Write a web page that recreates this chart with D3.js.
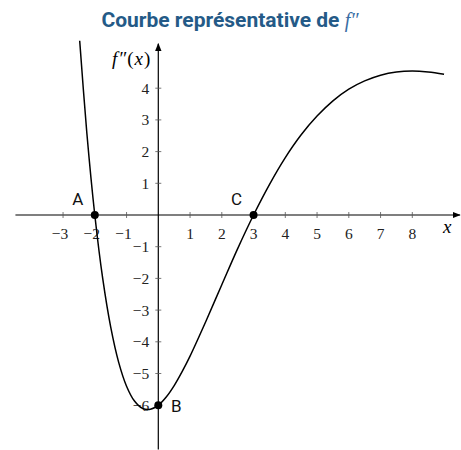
<!DOCTYPE html>
<html>
<head>
<meta charset="utf-8">
<script src="https://cdn.jsdelivr.net/npm/d3@7"></script>
<style>
  html, body { margin: 0; padding: 0; background: #fff; }
  svg { display: block; }
</style>
</head>
<body>
<svg id="chart" width="461" height="450"></svg>
<script>
const xs = [-2.5, -2.25, -2, -1.75, -1.5, -1.25, -1, -0.75, -0.5, -0.25, 0, 0.25, 0.5, 0.75, 1, 1.5, 2, 2.5, 3, 3.5, 4, 4.5, 5, 5.5, 6, 6.5, 7, 7.5, 8, 8.5, 9];
const ys = [5.82, 2.58, 0, -2.01, -3.53, -4.64, -5.40, -5.87, -6.10, -6.13, -6.00, -5.74, -5.38, -4.94, -4.45, -3.35, -2.20, -1.06, 0, 0.96, 1.81, 2.53, 3.12, 3.60, 3.97, 4.23, 4.41, 4.51, 4.54, 4.51, 4.44];

// Named points on the curve
const pointNames = ["A", "B", "C"];
const pointX = [-2, 0, 3];
const pointY = [0, -6, 0];

// Axis ticks
const xTicks = [-3, -2, -1, 1, 2, 3, 4, 5, 6, 7, 8];
const yTicks = [-6, -5, -4, -3, -2, -1, 1, 2, 3, 4];

const title = "Courbe représentative de ";

const svg = d3.select("#chart");
const unitX = 31.75, unitY = 31.7;
const x0 = 158.3, y0 = 215;
const x = d3.scaleLinear().domain([-4.5, 9.5]).range([x0 - 4.5 * unitX, x0 + 9.5 * unitX]);
const y = d3.scaleLinear().domain([-7.4, 5.5]).range([y0 + 7.4 * unitY, y0 - 5.5 * unitY]);

const serif = "'Liberation Serif', 'DejaVu Serif', serif";
const sans = "Roboto, 'Noto Sans', sans-serif";

// Title
const t = svg.append("text")
  .attr("x", 230).attr("y", 27)
  .attr("text-anchor", "middle")
  .attr("fill", "#245a87");
t.append("tspan").text(title)
  .attr("font-family", sans).attr("font-weight", 700).attr("font-size", 21);
t.append("tspan").text("f″")
  .attr("font-family", serif).attr("font-style", "italic").attr("font-size", 20)
  .attr("fill", "#3a6da3");

// Arrow marker
svg.append("defs").append("marker")
  .attr("id", "arrow")
  .attr("viewBox", "0 0 10 10")
  .attr("refX", 9).attr("refY", 5)
  .attr("markerWidth", 8).attr("markerHeight", 8)
  .attr("markerUnits", "userSpaceOnUse")
  .attr("orient", "auto")
  .append("path").attr("d", "M0,1 L10,5 L0,9 Z").attr("fill", "#000");

// Clip region for the curve
svg.select("defs").append("clipPath").attr("id", "plot")
  .append("rect")
  .attr("x", x(-4.5)).attr("y", y(5.5))
  .attr("width", x(9.5) - x(-4.5)).attr("height", y(-7.4) - y(5.5));

// Axes
svg.append("line")
  .attr("x1", x(-4.5)).attr("y1", y(0)).attr("x2", x(9.5)).attr("y2", y(0))
  .attr("stroke", "#000").attr("stroke-width", 1.2).attr("marker-end", "url(#arrow)");
svg.append("line")
  .attr("x1", x(0)).attr("y1", y(-7.4)).attr("x2", x(0)).attr("y2", y(5.4))
  .attr("stroke", "#000").attr("stroke-width", 1.2).attr("marker-end", "url(#arrow)");

// X ticks and labels
const xg = svg.append("g");
xg.selectAll("line").data(xTicks).join("line")
  .attr("x1", d => x(d)).attr("x2", d => x(d))
  .attr("y1", y(0) - 3).attr("y2", y(0) + 3)
  .attr("stroke", "#555").attr("stroke-width", 0.8);
xg.selectAll("text").data(xTicks).join("text")
  .attr("x", d => x(d) - (d < 0 ? 3 : 0)).attr("y", y(0) + 24)
  .attr("text-anchor", "middle")
  .attr("font-family", serif).attr("font-size", 15.5).attr("fill", "#222")
  .text(d => d < 0 ? "−" + Math.abs(d) : d);

// Y ticks and labels
const yg = svg.append("g");
yg.selectAll("line").data(yTicks).join("line")
  .attr("x1", x(0) - 3).attr("x2", x(0) + 3)
  .attr("y1", d => y(d)).attr("y2", d => y(d))
  .attr("stroke", "#555").attr("stroke-width", 0.8);
yg.selectAll("text").data(yTicks).join("text")
  .attr("x", x(0) - 9).attr("y", d => y(d) + 5.5)
  .attr("text-anchor", "end")
  .attr("font-family", serif).attr("font-size", 15.5).attr("fill", "#222")
  .text(d => d < 0 ? "−" + Math.abs(d) : d);

// Axis names
svg.append("text")
  .attr("x", x(9.1)).attr("y", y(0) + 18)
  .attr("text-anchor", "middle")
  .attr("font-family", serif).attr("font-style", "italic").attr("font-size", 19)
  .text("x");
const fl = svg.append("text")
  .attr("x", x(0) - 7).attr("y", y(0) - 150)
  .attr("text-anchor", "end")
  .attr("font-family", serif).attr("font-size", 19)
  .attr("letter-spacing", 1);
fl.append("tspan").attr("font-style", "italic").text("f″");
fl.append("tspan").text("(");
fl.append("tspan").attr("font-style", "italic").text("x");
fl.append("tspan").text(")");

// Curve
const pts = xs.map((d, i) => [d, ys[i]]);
svg.append("path")
  .datum(pts)
  .attr("clip-path", "url(#plot)")
  .attr("fill", "none")
  .attr("stroke", "#000").attr("stroke-width", 1.5)
  .attr("d", d3.line().x(d => x(d[0])).y(d => y(d[1])).curve(d3.curveCatmullRom.alpha(0.5)));

// Points and their names
const pg = svg.append("g");
pg.selectAll("circle").data(pointNames).join("circle")
  .attr("cx", (d, i) => x(pointX[i])).attr("cy", (d, i) => y(pointY[i]))
  .attr("r", 4).attr("fill", "#000");
const labelDx = [-17, 18, -17];
const labelDy = [-10, 7, -10];
pg.selectAll("text").data(pointNames).join("text")
  .attr("x", (d, i) => x(pointX[i]) + labelDx[i])
  .attr("y", (d, i) => y(pointY[i]) + labelDy[i])
  .attr("text-anchor", "middle")
  .attr("font-family", sans).attr("font-size", 17).attr("fill", "#111")
  .text(d => d);
</script>
</body>
</html>
